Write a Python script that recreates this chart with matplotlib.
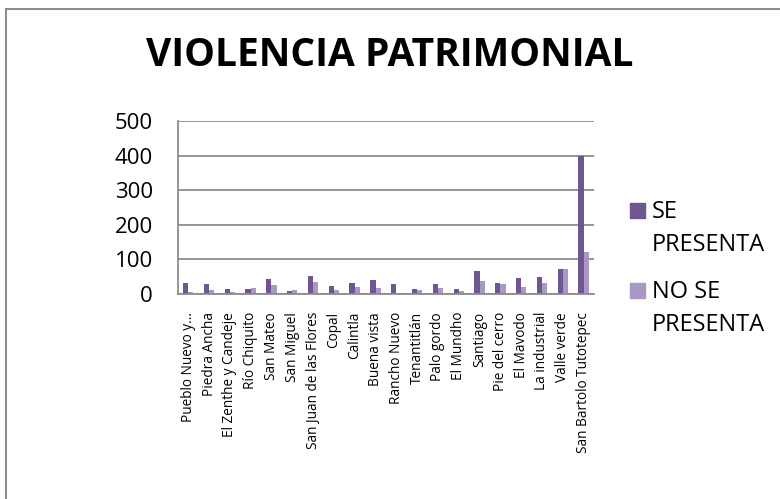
import numpy as np
import matplotlib
matplotlib.use("Agg")
import matplotlib.pyplot as plt
from matplotlib.patches import Rectangle

# datos
comunidades = ["Pueblo Nuevo y...", "Piedra Ancha", "El Zenthe y Candeje", "Río Chiquito",
               "San Mateo", "San Miguel", "San Juan de las Flores", "Copal", "Calintla",
               "Buena vista", "Rancho Nuevo", "Tenantitlán", "Palo gordo", "El Mundho",
               "Santiago", "Pie del cerro", "El Mavodo", "La industrial", "Valle verde",
               "San Bartolo Tutotepec"]
se_presenta = [31, 28, 13, 13, 43, 8, 51, 22, 31, 41, 28, 13, 30, 14, 65, 31, 45, 50, 71, 398]
no_se_presenta = [5, 12, 6, 16, 25, 11, 34, 11, 21, 16, 4, 11, 16, 7, 36, 30, 19, 31, 71, 121]
yticks = [0, 100, 200, 300, 400, 500]
series = ["SE\nPRESENTA", "NO SE\nPRESENTA"]

c_se = "#6F5693"
c_no = "#A898C3"
gris = "#8C8C8C"

plt.rcParams['font.family'] = ['Open Sans', 'DejaVu Sans']

fig = plt.figure(figsize=(7.8, 4.99), dpi=100)
ax = fig.add_axes([0.228, 0.411, 0.5335, 0.3465])

x = np.arange(len(comunidades))
w = 0.25
ax.bar(x - w/2, se_presenta, w, color=c_se)
ax.bar(x + w/2, no_se_presenta, w, color=c_no)

ax.set_xlim(-0.5, len(comunidades) - 0.5)
ax.set_ylim(0, 500)
ax.set_yticks(yticks)
ax.set_yticklabels([str(v) for v in yticks], fontsize=16)
ax.tick_params(axis='y', length=0, pad=18)
ax.yaxis.grid(True, color=gris, linewidth=1.3)
ax.set_axisbelow(True)

ax.set_xticks(x)
ax.set_xticklabels(comunidades, rotation=90, fontsize=9.8)
ax.tick_params(axis='x', length=0, pad=13)

for s in ["top", "right"]:
    ax.spines[s].set_visible(False)
for s in ["left", "bottom"]:
    ax.spines[s].set_color(gris)
    ax.spines[s].set_linewidth(1.3)

# leyenda a mano (cuadro alineado con la primera línea)
for i, (lab, col) in enumerate(zip(series, [c_se, c_no])):
    y0 = 1 - (203 + 80 * i) / 499
    fig.patches.append(Rectangle((630/780, y0 - 15/499), 15/780, 15/499,
                                 transform=fig.transFigure, color=col))
    fig.text(652/780, y0 + 3/499, lab, ha="left", va="top", fontsize=17,
             linespacing=1.5)

fig.text(0.5, 1 - 56/499, "VIOLENCIA PATRIMONIAL", ha="center", va="center",
         fontsize=28, fontweight="bold")

# borde del gráfico
fig.patches.append(Rectangle((6/780, -0.1), 1.1, 1 - 9/499 + 0.1, transform=fig.transFigure,
                             fill=False, edgecolor=gris, linewidth=1.5))

fig.savefig("out.png", dpi=100)
